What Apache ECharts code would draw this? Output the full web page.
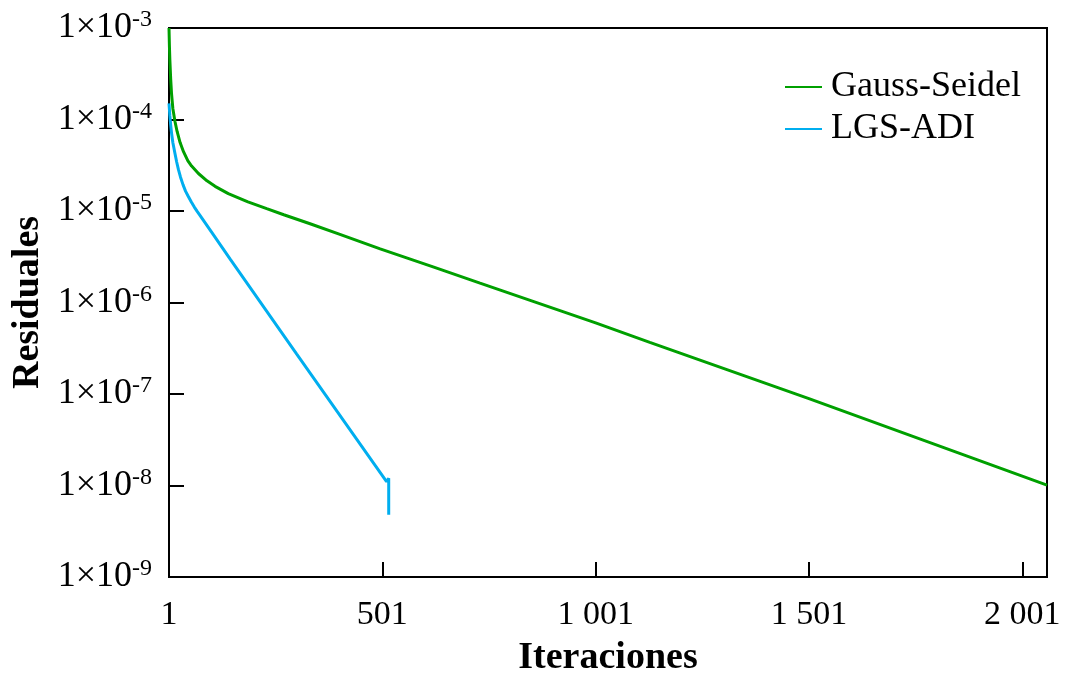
<!DOCTYPE html>
<html>
<head>
<meta charset="utf-8">
<script src="https://cdn.jsdelivr.net/npm/echarts@6/dist/echarts.min.js"></script>
<style>
html,body{margin:0;padding:0;background:#fff;}
#chart{width:1067px;height:673px;}
</style>
</head>
<body>
<div id="chart"></div>
<script>
// Data (iteration, residual)
const seriesNames = ['Gauss-Seidel', 'LGS-ADI'];
const gaussSeidel = [
  [1,1.0e-3],[2,6.3e-4],[3,4.5e-4],[5,2.75e-4],[7,1.9e-4],[10,1.32e-4],[15,9.5e-5],
  [20,7.4e-5],[27,5.6e-5],[35,4.45e-5],[45,3.55e-5],[54,3.1e-5],[70,2.57e-5],
  [90,2.14e-5],[109,1.86e-5],[140,1.55e-5],[186,1.26e-5],[230,1.06e-5],[270,9.1e-6],
  [330,7.3e-6],[400,5.6e-6],[496,3.85e-6],[620,2.45e-6],[730,1.63e-6],[1001,6.0e-7],
  [1128,3.67e-7],[1501,8.9e-8],[2059,1.01e-8]
];
const lgsAdi = [
  [1,1.5e-4],[3,1.1e-4],[5,8.7e-5],[7,7.1e-5],[10,5.6e-5],[15,4.25e-5],[19,3.43e-5],
  [23,2.85e-5],[28,2.34e-5],[34,1.93e-5],[40,1.64e-5],[46,1.45e-5],[53,1.26e-5],
  [60,1.11e-5],[67,9.9e-6],[74,8.9e-6],[100,5.95e-6],[144,3.0e-6],[300,2.75e-7],
  [511,1.1e-8],[516,1.2e-8],[516,4.8e-9]
];
const xTicks = [1, 501, 1001, 1501, 2001];
const yTickExponents = [-3, -4, -5, -6, -7, -8, -9];

const FONT = "'Liberation Serif', 'Times New Roman', serif";
const chart = echarts.init(document.getElementById('chart'));

function fmtX(v) {
  if (xTicks.indexOf(v) < 0) return '';
  return String(v).replace(/\B(?=(\d{3})+(?!\d))/g, ' ');
}

chart.setOption({
  animation: false,
  backgroundColor: '#fff',
  grid: {left: 169, right: 20, top: 28, bottom: 96, show: true, borderColor: '#000', borderWidth: 2,
         outerBoundsMode: 'none', containLabel: false},
  legend: {
    data: seriesNames,
    orient: 'vertical',
    left: 785, top: 66, padding: 0,
    itemWidth: 37, itemHeight: 2, itemGap: 0,
    icon: 'rect',
    textStyle: {fontFamily: FONT, fontSize: 36, color: '#000', lineHeight: 42, padding: [0,0,0,4]}
  },
  xAxis: {
    type: 'value', min: 1, max: 2059, interval: 500,
    name: 'Iteraciones', nameLocation: 'middle', nameGap: 62,
    nameTextStyle: {fontFamily: FONT, fontSize: 38, fontWeight: 'bold', color: '#000'},
    axisLine: {show: true, onZero: false, lineStyle: {color: '#000', width: 2}},
    axisTick: {show: true, inside: true, length: 15, lineStyle: {color: '#000', width: 2}},
    axisLabel: {fontFamily: FONT, fontSize: 34, color: '#000', margin: 21, showMaxLabel: false, formatter: fmtX},
    splitLine: {show: false}
  },
  yAxis: {
    type: 'log', logBase: 10, min: 1e-9, max: 1e-3,
    name: 'Residuales', nameLocation: 'middle', nameGap: 121, nameRotate: 90,
    nameTextStyle: {fontFamily: FONT, fontSize: 38, fontWeight: 'bold', color: '#000'},
    axisLine: {show: true, lineStyle: {color: '#000', width: 2}},
    axisTick: {show: true, inside: true, length: 15, lineStyle: {color: '#000', width: 2}},
    minorTick: {show: false},
    splitLine: {show: false},
    axisLabel: {
      fontFamily: FONT, fontSize: 36, color: '#000', margin: 17,
      formatter: function (v) {
        const e = Math.round(Math.log10(v));
        if (yTickExponents.indexOf(e) < 0) return '';
        return '1×10{sup|' + e + '}';
      },
      rich: {sup: {fontFamily: FONT, fontSize: 24, color: '#000', verticalAlign: 'bottom', padding: [0, 0, 16, 0]}}
    }
  },
  series: [
    {name: seriesNames[0], type: 'line', data: gaussSeidel, showSymbol: false,
     lineStyle: {color: '#00A000', width: 3}, itemStyle: {color: '#00A000'}},
    {name: seriesNames[1], type: 'line', data: lgsAdi, showSymbol: false,
     lineStyle: {color: '#00AEEF', width: 3}, itemStyle: {color: '#00AEEF'}}
  ]
});
</script>
</body>
</html>
